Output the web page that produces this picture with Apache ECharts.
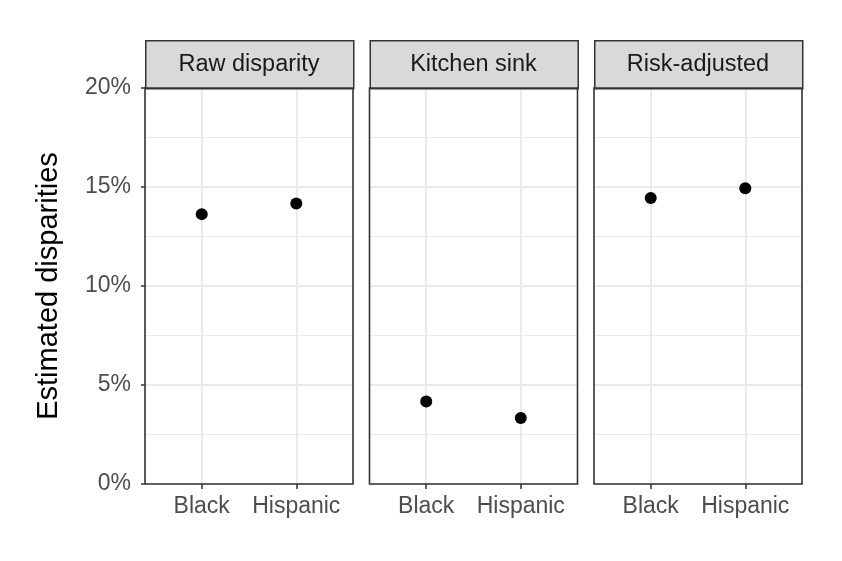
<!DOCTYPE html>
<html><head><meta charset="utf-8">
<script src="https://cdn.jsdelivr.net/npm/echarts@6/dist/echarts.min.js"></script>
<style>html,body{margin:0;padding:0;background:#fff}#c{width:842px;height:561px}</style>
</head><body><div id="c"></div>
<script>
const panels = ['Raw disparity', 'Kitchen sink', 'Risk-adjusted'];
const categories = ['Black', 'Hispanic'];
const rawValues = [13.63, 14.17];
const kitchenValues = [4.17, 3.33];
const riskValues = [14.44, 14.94];
const yTicks = [0, 5, 10, 15, 20];
const yAxisTitle = 'Estimated disparities';

const seriesValues = [rawValues, kitchenValues, riskValues];
const FONT = '"Liberation Sans", Arial, Helvetica, sans-serif';
const lefts = [145, 369.5, 594];
const W = 208, TOP = 88, H = 396, STRIP_TOP = 40;
const OFF = 0.6;
const tickPos = categories.map((c, i) => i + OFF);

const grids = [], xAxes = [], yAxes = [], series = [], graphics = [];
panels.forEach((p, k) => {
  grids.push({left: lefts[k], top: TOP, width: W, height: H, show: true,
    backgroundColor: '#fff', borderWidth: 0, containLabel: false});
  xAxes.push({type: 'value', gridIndex: k, min: 0, max: categories.length + 2 * OFF - 1,
    axisLine: {show: false},
    axisTick: {show: true, customValues: tickPos, length: 5, lineStyle: {color: '#333333', width: 1.5}},
    axisLabel: {show: true, customValues: tickPos, margin: 11, fontFamily: FONT, fontSize: 23, color: '#4d4d4d',
      formatter: v => categories[Math.round(v - OFF)] || ''},
    splitLine: {show: true, lineStyle: {color: '#ebebeb', width: 2}}
  });
  yAxes.push({type: 'value', gridIndex: k, min: yTicks[0], max: yTicks[yTicks.length - 1], interval: 5,
    name: k === 0 ? yAxisTitle : '', nameLocation: 'middle', nameGap: 82,
    nameTextStyle: {fontFamily: FONT, fontSize: 29, color: '#000'},
    axisLine: {show: false},
    axisTick: {show: k === 0, length: 4, lineStyle: {color: '#333333', width: 1.5}},
    axisLabel: {show: k === 0, margin: 14, fontFamily: FONT, fontSize: 23, color: '#4d4d4d', formatter: v => v + '%'},
    splitLine: {show: true, lineStyle: {color: '#ebebeb', width: 2}},
    minorTick: {show: false, splitNumber: 2},
    minorSplitLine: {show: true, lineStyle: {color: '#ebebeb', width: 1}}
  });
  series.push({type: 'scatter', xAxisIndex: k, yAxisIndex: k, symbolSize: 12, z: 5,
    itemStyle: {color: '#000', opacity: 1},
    data: seriesValues[k].map((v, i) => [i + OFF, v])});
  graphics.push({type: 'rect', left: lefts[k], top: STRIP_TOP, z: 10,
    shape: {x: lefts[k], y: STRIP_TOP, width: W, height: TOP - STRIP_TOP},
    style: {fill: '#d9d9d9', stroke: '#333333', lineWidth: 1.5}});
  graphics.push({type: 'rect', z: 12, silent: true,
    shape: {x: lefts[k], y: TOP, width: W, height: H},
    style: {fill: 'none', stroke: '#333333', lineWidth: 1.6}});
  graphics.push({type: 'text', z: 11, x: lefts[k] + W / 2, y: (STRIP_TOP + TOP) / 2 + 1,
    style: {text: p, fill: '#1a1a1a', font: '23.5px ' + FONT, textAlign: 'center', textVerticalAlign: 'middle'}});
});

const chart = echarts.init(document.getElementById('c'), null, {renderer: 'canvas'});
chart.setOption({
  animation: false,
  backgroundColor: '#fff',
  grid: grids, xAxis: xAxes, yAxis: yAxes, series: series, graphic: graphics
});
</script></body></html>
